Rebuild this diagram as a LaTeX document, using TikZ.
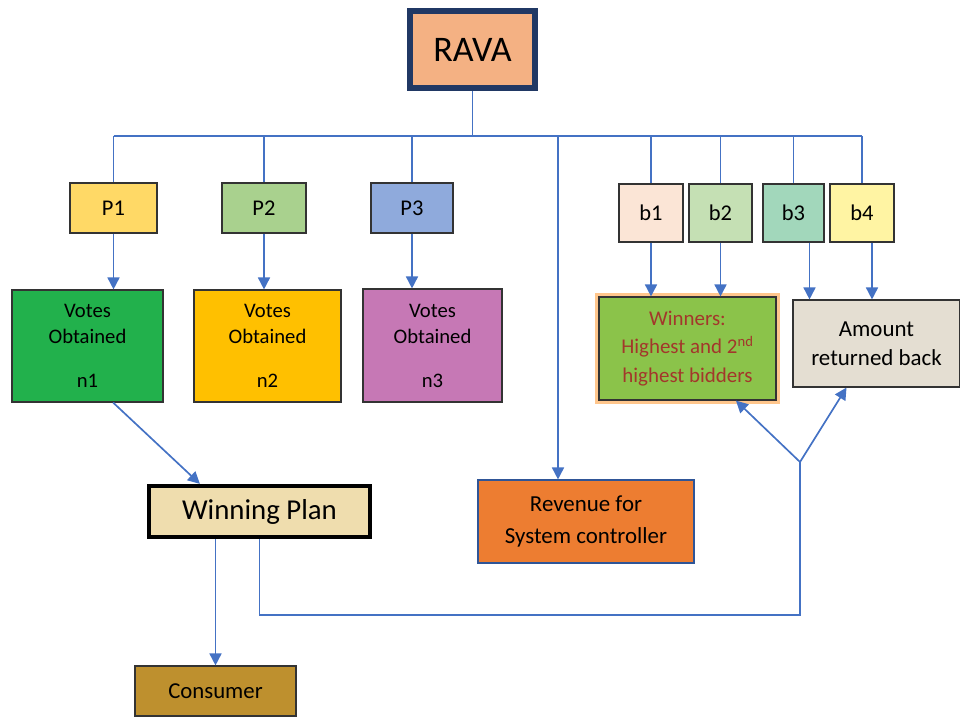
\documentclass[tikz,border=0pt]{standalone}
\usepackage{fontspec}
\setmainfont{Carlito}
\usepackage{xcolor}
\usepackage{tikz}
\usetikzlibrary{arrows.meta}

\definecolor{linkblue}{HTML}{4472C4}
\definecolor{navy}{HTML}{203864}
\definecolor{ravafill}{HTML}{F4B183}
\definecolor{pone}{HTML}{FFD966}
\definecolor{ptwo}{HTML}{A9D18E}
\definecolor{pthree}{HTML}{8FAADC}
\definecolor{bone}{HTML}{FBE5D6}
\definecolor{btwo}{HTML}{C5E0B4}
\definecolor{bthree}{HTML}{A2D7BB}
\definecolor{bfour}{HTML}{FFF4A3}
\definecolor{vone}{HTML}{22B14C}
\definecolor{vtwo}{HTML}{FFC000}
\definecolor{vthree}{HTML}{C678B5}
\definecolor{winfill}{HTML}{8BC34A}
\definecolor{wintext}{HTML}{A3372B}
\definecolor{amtfill}{HTML}{E4DED2}
\definecolor{planfill}{HTML}{EFDDAE}
\definecolor{revfill}{HTML}{ED7D31}
\definecolor{revline}{HTML}{2F5597}
\definecolor{confill}{HTML}{BE902E}

\begin{document}
\begin{tikzpicture}[
  box/.style={draw=black!80, line width=0.8pt, align=center, inner sep=0pt},
  link/.style={draw=linkblue, line width=1.2pt},
  flow/.style={link, -{Triangle[length=3mm,width=3mm]}},
  pfont/.style={font=\fontsize{16}{19}\selectfont}
]
\useasboundingbox (0,0) rectangle (24,17.925);

% Top
\node[box, draw=navy, line width=4.3pt, fill=ravafill, minimum width=3.125cm, minimum height=1.925cm,
  font=\fontsize{25.6}{30}\selectfont] (rava) at (11.8125,16.6875) {RAVA};

% Plans and bidders
\node[box, pfont, fill=pone, minimum width=2.175cm, minimum height=1.25cm] (p1) at (2.8375,12.725) {P1};
\node[box, pfont, fill=ptwo, minimum width=2.1cm, minimum height=1.25cm] (p2) at (6.6,12.725) {P2};
\node[box, pfont, fill=pthree, minimum width=2.05cm, minimum height=1.25cm] (p3) at (10.3,12.725) {P3};
\node[box, pfont, fill=bone, minimum width=1.6cm, minimum height=1.45cm] (b1) at (16.275,12.6) {b1};
\node[box, pfont, fill=btwo, minimum width=1.575cm, minimum height=1.45cm] (b2) at (18.0125,12.6) {b2};
\node[box, pfont, fill=bthree, minimum width=1.525cm, minimum height=1.45cm] (b3) at (19.8375,12.6) {b3};
\node[box, pfont, fill=bfour, minimum width=1.6cm, minimum height=1.45cm] (b4) at (21.55,12.6) {b4};

% Votes
\node[box, fill=vone, minimum width=3.775cm, minimum height=2.8cm, font=\fontsize{14.7}{18.5}\selectfont]
  (v1) at (2.1875,9.275) {Votes\\Obtained\\[12.8pt]n1};
\node[box, fill=vtwo, minimum width=3.675cm, minimum height=2.8cm, font=\fontsize{14.7}{18.5}\selectfont]
  (v2) at (6.6875,9.275) {Votes\\Obtained\\[12.8pt]n2};
\node[box, fill=vthree, minimum width=3.475cm, minimum height=2.825cm, font=\fontsize{14.7}{18.5}\selectfont]
  (v3) at (10.8125,9.2875) {Votes\\Obtained\\[12.8pt]n3};

% Winners and refund
\node[box, fill=winfill, text=wintext, preaction={draw=orange!45, line width=5pt},
  minimum width=4.425cm, minimum height=2.575cm, font=\fontsize{14.9}{20}\selectfont]
  (win) at (17.1875,9.2125) {Winners:\\Highest and 2\textsuperscript{nd}\\highest bidders};
\node[box, fill=amtfill, minimum width=4.175cm, minimum height=2.175cm, font=\fontsize{16.3}{21}\selectfont]
  (amt) at (21.9125,9.3375) {Amount\\returned back};

% Bottom
\node[box, draw=black, line width=3pt, fill=planfill, minimum width=5.525cm, minimum height=1.275cm,
  font=\fontsize{20.5}{24}\selectfont] (plan) at (6.4875,5.1375) {Winning Plan};
\node[box, draw=revline, fill=revfill, minimum width=5.4cm, minimum height=2.075cm,
  font=\fontsize{16.3}{22.8}\selectfont] (rev) at (14.65,4.8875) {Revenue for\\System controller};
\node[box, fill=confill, minimum width=4.025cm, minimum height=1.25cm, font=\fontsize{16.2}{19}\selectfont]
  (con) at (5.3875,0.65) {Consumer};

% Bus
\coordinate (bus) at (rava.south |- 0,14.525);
\coordinate (rv) at (13.95,14.525);
\draw[link] (rava.south) -- (bus);
\draw[link] (p1.north |- bus) -- (b4.north |- bus);
\foreach \n in {p1,p2,p3,b1,b2,b3,b4}
  \draw[link] (\n.north |- bus) -- (\n.north);
\draw[flow] (rv) -- (rv |- rev.north);

% Arrows down
\foreach \p/\v in {p1/v1,p2/v2,p3/v3}
  \draw[flow] (\p.south) -- (\p.south |- \v.north);
\draw[flow] (b1.south) -- (b1.south |- win.north);
\draw[flow] (b2.south) -- (b2.south |- win.north);
\draw[flow] ([xshift=0.4cm]b3.south) -- ([xshift=0.4cm]b3.south |- amt.north);
\draw[flow] ([xshift=0.25cm]b4.south) -- ([xshift=0.25cm]b4.south |- amt.north);

% Plan
\draw[flow] ([xshift=0.64cm]v1.south) -- ([xshift=-1.49cm]plan.north);
\draw[flow] (con.north |- plan.south) -- (con.north);

% Back to bidders
\coordinate (fork) at (20,6.375);
\coordinate (corner) at (20,2.55);
\draw[link] (plan.south) |- (corner) -- (fork);
\draw[flow] (fork) -- ([xshift=1.21cm]win.south);
\draw[flow] (fork) -- ([xshift=-0.75cm]amt.south);
\end{tikzpicture}
\end{document}
